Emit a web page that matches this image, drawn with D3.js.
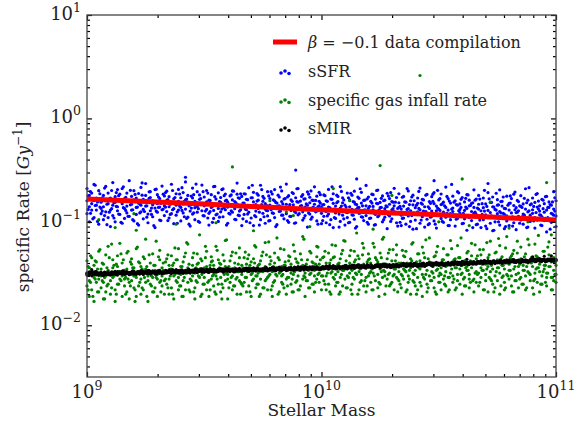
<!DOCTYPE html>
<html>
<head>
<meta charset="utf-8">
<script src="https://cdn.jsdelivr.net/npm/d3@7"></script>
<style>
  body { margin: 0; background: #fff; }
  svg { display: block; font-family: "DejaVu Serif", serif; }
</style>
</head>
<body>
<div id="chart"></div>
<script>
// beta = -0.1 data compilation (log10 stellar mass, rate)
const lineLogM = [9.0, 9.1, 9.2, 9.3, 9.4, 9.5, 9.6, 9.7, 9.8, 9.9, 10.0, 10.1, 10.2, 10.3, 10.4, 10.5, 10.6, 10.7, 10.8, 10.9, 11.0];
const lineRate = [0.166, 0.163, 0.159, 0.156, 0.152, 0.149, 0.145, 0.141, 0.138, 0.134, 0.131, 0.128, 0.125, 0.122, 0.12, 0.117, 0.114, 0.112, 0.109, 0.107, 0.104];

// scatter rows: [log10 stellar mass, rate, rate, ...]
const sSFR = [
[9.00,0.16,0.12,0.21],[9.01,0.14,0.18,0.10],[9.02,0.15,0.19,0.13],[9.03,0.23,0.11,0.16],[9.04,0.13,0.17,0.145],
[9.05,0.20,0.095,0.165],[9.06,0.135,0.155,0.12],[9.07,0.18,0.105,0.14],[9.08,0.22,0.125,0.16],[9.09,0.11,0.15,0.19],
[9.10,0.09,0.17,0.13],[9.11,0.145,0.24,0.115],[9.12,0.175,0.10,0.155],[9.13,0.128,0.205,0.14],[9.14,0.16,0.118,0.185],
[9.15,0.097,0.15,0.21],[9.16,0.135,0.168,0.108],[9.17,0.19,0.142,0.122],[9.18,0.158,0.25,0.113],[9.19,0.13,0.176,0.148],
[9.20,0.102,0.163,0.2],[9.21,0.138,0.118,0.17],[9.22,0.152,0.093,0.188],[9.23,0.125,0.215,0.145],[9.24,0.165,0.132,0.107],
[9.25,0.18,0.142,0.235],[9.26,0.119,0.155,0.098],[9.27,0.172,0.128,0.196],[9.28,0.146,0.112,0.16],[9.29,0.205,0.136,0.088],
[9.30,0.15,0.183,0.124],[9.31,0.139,0.168,0.104],[9.32,0.222,0.131,0.157],[9.33,0.115,0.178,0.143],
[9.34,0.161,0.126,0.198],[9.35,0.14,0.109,0.175],[9.36,0.152,0.231,0.12],[9.37,0.134,0.167,0.096],[9.38,0.187,0.145,0.116],
[9.39,0.158,0.206,0.13],[9.40,0.102,0.171,0.138],[9.41,0.149,0.122,0.192],[9.42,0.243,0.133,0.163],[9.43,0.111,0.155,0.18],
[9.44,0.127,0.091,0.146],[9.45,0.17,0.212,0.119],[9.46,0.137,0.158,0.105],[9.47,0.196,0.141,0.124],[9.48,0.165,0.099,0.182],
[9.49,0.128,0.151,0.227],[9.50,0.114,0.174,0.143],[9.51,0.156,0.132,0.201],[9.52,0.093,0.162,0.121],[9.53,0.183,0.138,0.15],
[9.54,0.108,0.219,0.129],[9.55,0.166,0.147,0.117],[9.56,0.135,0.191,0.101],[9.57,0.154,0.125,0.172],[9.58,0.208,0.143,0.112],
[9.59,0.131,0.16,0.186],[9.60,0.097,0.139,0.155],[9.61,0.178,0.119,0.146],[9.62,0.124,0.199,0.163],[9.63,0.157,0.106,0.134],
[9.64,0.185,0.148,0.237],[9.65,0.115,0.169,0.127],[9.66,0.14,0.092,0.176],
[9.67,0.152,0.118,0.187],[9.68,0.131,0.165,0.101],[9.69,0.144,0.214,0.124],[9.70,0.171,0.109,0.138],[9.71,0.092,0.156,0.193],
[9.72,0.127,0.147,0.112],[9.73,0.181,0.135,0.162],[9.74,0.105,0.226,0.141],[9.75,0.158,0.121,0.176],[9.76,0.133,0.097,0.15],
[9.77,0.196,0.128,0.114],[9.78,0.145,0.168,0.103],[9.79,0.122,0.186,0.137],[9.80,0.16,0.11,0.205],[9.81,0.138,0.152,0.094],
[9.82,0.174,0.126,0.143],[9.83,0.116,0.199,0.157],[9.84,0.134,0.107,0.166],[9.85,0.148,0.232,0.12],[9.86,0.099,0.14,0.179],
[9.87,0.163,0.129,0.113],[9.88,0.188,0.146,0.136],[9.89,0.123,0.171,0.098],[9.90,0.155,0.117,0.21],[9.91,0.132,0.159,0.142],
[9.92,0.104,0.183,0.125],[9.93,0.167,0.139,0.115],[9.94,0.145,0.195,0.089],[9.95,0.119,0.153,0.173],[9.96,0.136,0.111,0.162],
[9.97,0.218,0.131,0.148],[9.98,0.102,0.177,0.127],[9.99,0.158,0.143,0.193],[10.00,0.121,0.096,0.138],
[10.01,0.147,0.113,0.182],[10.02,0.126,0.16,0.098],[10.03,0.139,0.206,0.119],[10.04,0.166,0.105,0.133],[10.05,0.088,0.151,0.187],
[10.06,0.122,0.142,0.108],[10.07,0.176,0.13,0.157],[10.08,0.101,0.219,0.136],[10.09,0.153,0.116,0.171],[10.10,0.128,0.093,0.145],
[10.11,0.19,0.123,0.11],[10.12,0.14,0.163,0.099],[10.13,0.117,0.181,0.132],[10.14,0.155,0.106,0.198],[10.15,0.133,0.147,0.09],
[10.16,0.169,0.121,0.138],[10.17,0.112,0.193,0.152],[10.18,0.129,0.103,0.161],[10.19,0.143,0.225,0.115],[10.20,0.095,0.135,0.174],
[10.21,0.158,0.124,0.109],[10.22,0.183,0.141,0.131],[10.23,0.118,0.166,0.094],[10.24,0.15,0.112,0.203],[10.25,0.127,0.154,0.137],
[10.26,0.1,0.178,0.12],[10.27,0.162,0.134,0.111],[10.28,0.14,0.189,0.086],[10.29,0.114,0.148,0.168],[10.30,0.131,0.107,0.157],
[10.31,0.211,0.126,0.143],[10.32,0.098,0.172,0.122],[10.33,0.153,0.138,0.187],
[10.34,0.116,0.092,0.133],[10.35,0.142,0.109,0.176],[10.36,0.122,0.155,0.095],[10.37,0.134,0.199,0.114],[10.38,0.16,0.101,0.128],
[10.39,0.085,0.146,0.181],[10.40,0.118,0.137,0.104],[10.41,0.17,0.125,0.151],[10.42,0.097,0.212,0.131],[10.43,0.148,0.112,0.165],
[10.44,0.123,0.089,0.14],[10.45,0.184,0.119,0.106],[10.46,0.135,0.157,0.096],[10.47,0.113,0.175,0.127],[10.48,0.15,0.102,0.192],
[10.49,0.128,0.142,0.087],[10.50,0.163,0.117,0.133],[10.51,0.108,0.186,0.147],[10.52,0.124,0.099,0.155],[10.53,0.138,0.217,0.111],
[10.54,0.092,0.13,0.168],[10.55,0.152,0.12,0.105],[10.56,0.177,0.136,0.126],[10.57,0.114,0.16,0.091],[10.58,0.145,0.108,0.196],
[10.59,0.122,0.149,0.132],[10.60,0.096,0.172,0.116],[10.61,0.156,0.129,0.107],[10.62,0.135,0.183,0.083],[10.63,0.11,0.143,0.162],
[10.64,0.126,0.103,0.151],[10.65,0.204,0.121,0.138],[10.66,0.094,0.166,0.118],
[10.67,0.148,0.133,0.18],[10.68,0.112,0.088,0.128],[10.69,0.137,0.105,0.17],[10.70,0.117,0.149,0.091],[10.71,0.129,0.192,0.11],
[10.72,0.154,0.097,0.123],[10.73,0.082,0.14,0.174],[10.74,0.113,0.132,0.1],[10.75,0.164,0.12,0.145],[10.76,0.093,0.204,0.126],
[10.77,0.142,0.108,0.158],[10.78,0.118,0.086,0.135],[10.79,0.177,0.114,0.102],[10.80,0.13,0.151,0.092],[10.81,0.109,0.168,0.122],
[10.82,0.144,0.098,0.185],[10.83,0.123,0.137,0.084],[10.84,0.157,0.113,0.128],[10.85,0.104,0.179,0.141],[10.86,0.119,0.095,0.149],
[10.87,0.133,0.209,0.107],[10.88,0.089,0.125,0.162],[10.89,0.146,0.116,0.101],[10.90,0.17,0.131,0.121],[10.91,0.11,0.154,0.087],
[10.92,0.139,0.104,0.188],[10.93,0.117,0.143,0.127],[10.94,0.092,0.165,0.112],[10.95,0.15,0.124,0.103],[10.96,0.13,0.176,0.08],
[10.97,0.106,0.138,0.156],[10.98,0.121,0.099,0.145],[10.99,0.196,0.116,0.133],[11.00,0.09,0.16,0.114]
];
const sSFRHalf = [
[9.005,0.178,0.132],[9.015,0.121,0.196],[9.025,0.163,0.107],[9.035,0.144,0.226],[9.045,0.101,0.156],[9.055,0.187,0.139],
[9.065,0.127,0.171],[9.075,0.212,0.115],[9.085,0.148,0.094],[9.095,0.167,0.124],[9.105,0.134,0.201],[9.115,0.109,0.153],
[9.125,0.192,0.141],[9.135,0.119,0.179],[9.145,0.157,0.099],[9.155,0.137,0.218],[9.165,0.173,0.129],[9.175,0.113,0.162],
[9.185,0.202,0.146],[9.195,0.131,0.105],[9.205,0.161,0.184],[9.215,0.096,0.139],[9.225,0.149,0.122],[9.235,0.181,0.238],
[9.245,0.126,0.158],[9.255,0.143,0.111],[9.265,0.169,0.195],[9.275,0.118,0.136],[9.285,0.154,0.092],[9.295,0.207,0.127],
[9.305,0.138,0.174],[9.315,0.103,0.151],[9.325,0.185,0.133],
[9.335,0.139,0.192],[9.345,0.164,0.103],[9.355,0.118,0.148],[9.365,0.201,0.131],[9.375,0.151,0.172],[9.385,0.097,0.125],
[9.395,0.186,0.142],[9.405,0.129,0.214],[9.415,0.158,0.112],[9.425,0.108,0.166],[9.435,0.143,0.095],[9.445,0.177,0.136],
[9.455,0.122,0.183],[9.465,0.232,0.154],[9.475,0.134,0.101],[9.485,0.168,0.147],[9.495,0.115,0.196],[9.505,0.149,0.127],
[9.515,0.19,0.109],[9.525,0.126,0.161],[9.535,0.099,0.141],[9.545,0.175,0.22],[9.555,0.146,0.119],[9.565,0.111,0.157],
[9.575,0.205,0.133],[9.585,0.137,0.179],[9.595,0.162,0.093],[9.605,0.121,0.145],[9.615,0.182,0.128],[9.625,0.144,0.198],
[9.635,0.105,0.153],[9.645,0.171,0.116],[9.655,0.131,0.187],
[9.665,0.152,0.107],[9.675,0.186,0.133],[9.685,0.119,0.164],[9.695,0.098,0.142],[9.705,0.171,0.226],[9.715,0.138,0.115],
[9.725,0.159,0.188],[9.735,0.124,0.093],[9.745,0.205,0.147],[9.755,0.112,0.169],[9.765,0.145,0.129],[9.775,0.178,0.102],
[9.785,0.131,0.196],[9.795,0.163,0.121],[9.805,0.09,0.154],[9.815,0.142,0.181],[9.825,0.217,0.127],[9.835,0.116,0.149],
[9.845,0.168,0.136],[9.855,0.103,0.174],[9.865,0.147,0.113],[9.875,0.192,0.158],[9.885,0.126,0.097],[9.895,0.157,0.209],
[9.905,0.135,0.12],[9.915,0.176,0.144],[9.925,0.109,0.166],[9.935,0.149,0.131],[9.945,0.122,0.185],[9.955,0.199,0.106],
[9.965,0.139,0.161],[9.975,0.161,0.125],[9.985,0.095,0.14],[9.995,0.183,0.152],
[10.005,0.146,0.103],[10.015,0.179,0.128],[10.025,0.114,0.158],[10.035,0.094,0.137],[10.045,0.165,0.218],[10.055,0.133,0.11],
[10.065,0.153,0.181],[10.075,0.119,0.089],[10.085,0.197,0.142],[10.095,0.107,0.163],[10.105,0.139,0.124],[10.115,0.171,0.098],
[10.125,0.126,0.189],[10.135,0.157,0.116],[10.145,0.087,0.148],[10.155,0.137,0.174],[10.165,0.209,0.122],[10.175,0.111,0.143],
[10.185,0.162,0.131],[10.195,0.099,0.167],[10.205,0.141,0.108],[10.215,0.185,0.152],[10.225,0.121,0.093],[10.235,0.151,0.201],
[10.245,0.13,0.115],[10.255,0.169,0.138],[10.265,0.105,0.16],[10.275,0.143,0.126],[10.285,0.117,0.178],[10.295,0.192,0.101],
[10.305,0.134,0.155],[10.315,0.155,0.12],[10.325,0.091,0.135],
[10.335,0.141,0.099],[10.345,0.108,0.173],[10.355,0.156,0.123],[10.365,0.132,0.21],[10.375,0.09,0.147],[10.385,0.174,0.115],
[10.395,0.119,0.16],[10.405,0.145,0.086],[10.415,0.197,0.135],[10.425,0.104,0.152],[10.435,0.163,0.127],[10.445,0.126,0.181],
[10.455,0.094,0.14],[10.465,0.151,0.111],[10.475,0.185,0.158],[10.485,0.117,0.095],[10.495,0.136,0.202],[10.505,0.168,0.129],
[10.515,0.101,0.149],[10.525,0.143,0.117],[10.535,0.121,0.176],[10.545,0.159,0.092],[10.555,0.23,0.133],[10.565,0.112,0.155],
[10.575,0.147,0.106],[10.585,0.128,0.191],[10.595,0.165,0.138],[10.605,0.097,0.121],[10.615,0.139,0.169],[10.625,0.182,0.113],
[10.635,0.115,0.144],[10.645,0.153,0.088],[10.655,0.124,0.162],
[10.665,0.136,0.095],[10.675,0.104,0.166],[10.685,0.15,0.118],[10.695,0.127,0.202],[10.705,0.086,0.141],[10.715,0.167,0.11],
[10.725,0.114,0.154],[10.735,0.139,0.083],[10.745,0.189,0.13],[10.755,0.1,0.146],[10.765,0.157,0.122],[10.775,0.121,0.174],
[10.785,0.09,0.134],[10.795,0.145,0.107],[10.805,0.178,0.152],[10.815,0.112,0.091],[10.825,0.131,0.194],[10.835,0.161,0.124],
[10.845,0.097,0.143],[10.855,0.138,0.112],[10.865,0.116,0.169],[10.875,0.153,0.088],[10.885,0.214,0.128],[10.895,0.108,0.149],
[10.905,0.141,0.102],[10.915,0.123,0.184],[10.925,0.159,0.133],[10.935,0.093,0.116],[10.945,0.134,0.162],[10.955,0.175,0.108],
[10.965,0.11,0.138],[10.975,0.147,0.085],[10.985,0.119,0.156],[10.995,0.171,0.127]
];
const sSFROutliers = [[9.89, 0.317], [10.48, 0.25], [9.42, 0.27], [10.15, 0.26], [10.71, 0.235]];

const gasInfall = [
[9.00,0.031,0.024,0.042],[9.01,0.027,0.036,0.019],[9.02,0.033,0.045,0.022],[9.03,0.029,0.038,0.017],[9.04,0.041,0.026,0.032],
[9.05,0.021,0.052,0.028],[9.06,0.035,0.023,0.03],[9.07,0.018,0.039,0.026],[9.08,0.048,0.03,0.021],[9.09,0.025,0.034,0.058],
[9.10,0.032,0.02,0.027],[9.11,0.043,0.029,0.036],[9.12,0.022,0.031,0.017],[9.13,0.037,0.025,0.047],[9.14,0.028,0.062,0.033],
[9.15,0.019,0.03,0.04],[9.16,0.034,0.024,0.028],[9.17,0.05,0.021,0.035],[9.18,0.026,0.032,0.018],[9.19,0.039,0.027,0.044],
[9.20,0.023,0.036,0.03],[9.21,0.029,0.019,0.055],[9.22,0.033,0.041,0.024],[9.23,0.02,0.028,0.037],[9.24,0.046,0.031,0.022],
[9.25,0.026,0.035,0.068],[9.26,0.03,0.017,0.027],[9.27,0.04,0.025,0.033],[9.28,0.021,0.049,0.029],[9.29,0.034,0.023,0.038],
[9.30,0.028,0.031,0.019],[9.31,0.043,0.026,0.053],[9.32,0.024,0.036,0.03],[9.33,0.032,0.02,0.027],
[9.34,0.033,0.025,0.044],[9.35,0.028,0.038,0.02],[9.36,0.035,0.047,0.023],[9.37,0.03,0.04,0.018],[9.38,0.043,0.027,0.034],
[9.39,0.022,0.055,0.029],[9.40,0.037,0.024,0.031],[9.41,0.019,0.041,0.027],[9.42,0.05,0.032,0.022],[9.43,0.026,0.036,0.061],
[9.44,0.033,0.021,0.028],[9.45,0.045,0.03,0.038],[9.46,0.023,0.032,0.018],[9.47,0.039,0.026,0.049],[9.48,0.029,0.075,0.035],
[9.49,0.02,0.031,0.042],[9.50,0.036,0.025,0.029],[9.51,0.052,0.022,0.037],[9.52,0.027,0.034,0.019],[9.53,0.041,0.028,0.046],
[9.54,0.024,0.038,0.031],[9.55,0.03,0.02,0.058],[9.56,0.035,0.043,0.025],[9.57,0.021,0.029,0.039],[9.58,0.048,0.033,0.023],
[9.59,0.027,0.037,0.066],[9.60,0.031,0.018,0.028],[9.61,0.042,0.026,0.035],[9.62,0.022,0.051,0.03],[9.63,0.036,0.024,0.04],
[9.64,0.029,0.033,0.02],[9.65,0.045,0.027,0.056],[9.66,0.025,0.038,0.031],
[9.67,0.034,0.026,0.045],[9.68,0.029,0.039,0.021],[9.69,0.036,0.048,0.024],[9.70,0.031,0.041,0.019],[9.71,0.044,0.028,0.035],
[9.72,0.023,0.057,0.03],[9.73,0.038,0.025,0.032],[9.74,0.02,0.042,0.028],[9.75,0.051,0.033,0.023],[9.76,0.027,0.037,0.063],
[9.77,0.034,0.022,0.029],[9.78,0.046,0.031,0.039],[9.79,0.024,0.033,0.019],[9.80,0.04,0.027,0.05],[9.81,0.03,0.07,0.036],
[9.82,0.021,0.032,0.043],[9.83,0.037,0.026,0.03],[9.84,0.054,0.023,0.038],[9.85,0.028,0.035,0.02],[9.86,0.042,0.029,0.047],
[9.87,0.025,0.039,0.032],[9.88,0.031,0.021,0.06],[9.89,0.036,0.044,0.026],[9.90,0.022,0.03,0.04],[9.91,0.049,0.034,0.024],
[9.92,0.028,0.038,0.072],[9.93,0.032,0.019,0.029],[9.94,0.043,0.027,0.036],[9.95,0.023,0.052,0.031],[9.96,0.037,0.025,0.041],
[9.97,0.03,0.034,0.021],[9.98,0.046,0.028,0.058],[9.99,0.026,0.039,0.032],[10.00,0.035,0.022,0.03],
[10.01,0.035,0.027,0.046],[10.02,0.03,0.04,0.022],[10.03,0.037,0.05,0.025],[10.04,0.032,0.043,0.02],[10.05,0.045,0.029,0.036],
[10.06,0.024,0.059,0.031],[10.07,0.039,0.026,0.033],[10.08,0.021,0.044,0.029],[10.09,0.053,0.034,0.024],[10.10,0.028,0.038,0.065],
[10.11,0.035,0.023,0.03],[10.12,0.047,0.032,0.04],[10.13,0.025,0.034,0.02],[10.14,0.041,0.028,0.052],[10.15,0.031,0.078,0.037],
[10.16,0.022,0.033,0.044],[10.17,0.038,0.027,0.031],[10.18,0.056,0.024,0.039],[10.19,0.029,0.036,0.021],[10.20,0.043,0.03,0.049],
[10.21,0.026,0.04,0.033],[10.22,0.032,0.022,0.062],[10.23,0.037,0.045,0.027],[10.24,0.023,0.031,0.041],[10.25,0.05,0.035,0.025],
[10.26,0.029,0.039,0.068],[10.27,0.033,0.02,0.03],[10.28,0.044,0.028,0.037],[10.29,0.024,0.054,0.032],[10.30,0.038,0.026,0.042],
[10.31,0.031,0.035,0.022],[10.32,0.048,0.029,0.06],[10.33,0.027,0.04,0.033],
[10.34,0.04,0.031,0.023],[10.35,0.028,0.047,0.035],[10.36,0.021,0.033,0.052],[10.37,0.038,0.026,0.03],[10.38,0.044,0.02,0.036],
[10.39,0.032,0.063,0.027],[10.40,0.024,0.039,0.034],[10.41,0.049,0.029,0.022],[10.42,0.035,0.042,0.026],[10.43,0.019,0.031,0.057],
[10.44,0.037,0.028,0.045],[10.45,0.025,0.034,0.021],[10.46,0.041,0.03,0.07],[10.47,0.027,0.038,0.033],[10.48,0.046,0.023,0.029],
[10.49,0.034,0.051,0.02],[10.50,0.03,0.026,0.04],[10.51,0.022,0.036,0.031],[10.52,0.055,0.028,0.043],[10.53,0.033,0.024,0.037],
[10.54,0.029,0.048,0.021],[10.55,0.039,0.032,0.066],[10.56,0.026,0.041,0.03],[10.57,0.036,0.022,0.044],[10.58,0.031,0.059,0.027],
[10.59,0.045,0.025,0.035],[10.60,0.02,0.038,0.032],[10.61,0.042,0.029,0.024],[10.62,0.034,0.05,0.037],[10.63,0.023,0.031,0.028],
[10.64,0.047,0.036,0.062],[10.65,0.028,0.021,0.04],[10.66,0.033,0.044,0.026],
[10.67,0.041,0.032,0.024],[10.68,0.029,0.048,0.036],[10.69,0.022,0.034,0.054],[10.70,0.039,0.027,0.031],[10.71,0.045,0.021,0.037],
[10.72,0.033,0.065,0.028],[10.73,0.025,0.04,0.035],[10.74,0.05,0.03,0.023],[10.75,0.036,0.043,0.027],[10.76,0.02,0.032,0.059],
[10.77,0.038,0.029,0.046],[10.78,0.026,0.035,0.022],[10.79,0.042,0.031,0.072],[10.80,0.028,0.039,0.034],[10.81,0.047,0.024,0.03],
[10.82,0.035,0.053,0.021],[10.83,0.031,0.027,0.041],[10.84,0.023,0.037,0.032],[10.85,0.057,0.029,0.044],[10.86,0.034,0.025,0.038],
[10.87,0.03,0.049,0.022],[10.88,0.04,0.033,0.068],[10.89,0.027,0.042,0.031],[10.90,0.037,0.023,0.045],[10.91,0.032,0.061,0.028],
[10.92,0.046,0.026,0.036],[10.93,0.021,0.039,0.033],[10.94,0.043,0.03,0.025],[10.95,0.035,0.052,0.038],[10.96,0.024,0.032,0.029],
[10.97,0.048,0.037,0.064],[10.98,0.029,0.022,0.041],[10.99,0.034,0.045,0.027],[11.00,0.038,0.026,0.031]
];
const gasInfallHalf = [
[9.005,0.037,0.022],[9.015,0.026,0.047],[9.025,0.033,0.019],[9.035,0.042,0.028],[9.045,0.021,0.035],[9.055,0.054,0.031],
[9.065,0.027,0.04],[9.075,0.018,0.029],[9.085,0.036,0.024],[9.095,0.045,0.032],[9.105,0.023,0.061],[9.115,0.03,0.038],
[9.125,0.039,0.02],[9.135,0.025,0.033],[9.145,0.049,0.027],[9.155,0.034,0.043],[9.165,0.02,0.029],[9.175,0.028,0.052],
[9.185,0.041,0.024],[9.195,0.031,0.036],[9.205,0.022,0.017],[9.215,0.057,0.033],[9.225,0.026,0.04],[9.235,0.035,0.023],
[9.245,0.044,0.029],[9.255,0.019,0.037],[9.265,0.032,0.048],[9.275,0.024,0.03],[9.285,0.038,0.021],[9.295,0.029,0.065],
[9.305,0.046,0.034],[9.315,0.021,0.027],[9.325,0.034,0.04],
[9.335,0.028,0.041],[9.345,0.048,0.023],[9.355,0.035,0.03],[9.365,0.02,0.038],[9.375,0.031,0.056],[9.385,0.043,0.026],
[9.395,0.024,0.034],[9.405,0.037,0.019],[9.415,0.029,0.046],[9.425,0.063,0.032],[9.435,0.022,0.039],[9.445,0.034,0.027],
[9.455,0.05,0.021],[9.465,0.027,0.036],[9.475,0.04,0.03],[9.485,0.019,0.044],[9.495,0.033,0.025],[9.505,0.045,0.058],
[9.515,0.026,0.035],[9.525,0.038,0.022],[9.535,0.03,0.042],[9.545,0.021,0.033],[9.555,0.053,0.028],[9.565,0.036,0.04],
[9.575,0.025,0.018],[9.585,0.042,0.031],[9.595,0.032,0.067],[9.605,0.023,0.037],[9.615,0.047,0.029],[9.625,0.034,0.024],
[9.635,0.028,0.05],[9.645,0.039,0.033],[9.655,0.02,0.026],
[9.665,0.036,0.024],[9.675,0.029,0.051],[9.685,0.044,0.033],[9.695,0.021,0.038],[9.705,0.032,0.027],[9.715,0.059,0.04],
[9.725,0.025,0.03],[9.735,0.039,0.019],[9.745,0.034,0.047],[9.755,0.023,0.035],[9.765,0.048,0.028],[9.775,0.03,0.064],
[9.785,0.042,0.022],[9.795,0.026,0.037],[9.805,0.035,0.031],[9.815,0.02,0.045],[9.825,0.055,0.033],[9.835,0.031,0.025],
[9.845,0.038,0.041],[9.855,0.024,0.029],[9.865,0.046,0.036],[9.875,0.028,0.021],[9.885,0.033,0.052],[9.895,0.041,0.027],
[9.905,0.022,0.034],[9.915,0.037,0.043],[9.925,0.068,0.03],[9.935,0.027,0.039],[9.945,0.034,0.023],[9.955,0.05,0.032],
[9.965,0.025,0.04],[9.975,0.039,0.026],[9.985,0.031,0.057],[9.995,0.043,0.035],
[10.005,0.03,0.045],[10.015,0.052,0.025],[10.025,0.037,0.032],[10.035,0.021,0.04],[10.045,0.033,0.06],[10.055,0.046,0.028],
[10.065,0.026,0.036],[10.075,0.04,0.02],[10.085,0.031,0.049],[10.095,0.066,0.034],[10.105,0.023,0.042],[10.115,0.036,0.029],
[10.125,0.053,0.022],[10.135,0.029,0.038],[10.145,0.043,0.032],[10.155,0.02,0.047],[10.165,0.035,0.026],[10.175,0.048,0.062],
[10.185,0.027,0.037],[10.195,0.041,0.024],[10.205,0.032,0.044],[10.215,0.022,0.035],[10.225,0.057,0.03],[10.235,0.038,0.043],
[10.245,0.026,0.019],[10.255,0.045,0.033],[10.265,0.034,0.071],[10.275,0.024,0.039],[10.285,0.05,0.031],[10.295,0.036,0.025],
[10.305,0.03,0.054],[10.315,0.042,0.035],[10.325,0.021,0.028],
[10.335,0.038,0.025],[10.345,0.03,0.053],[10.355,0.046,0.034],[10.365,0.022,0.04],[10.375,0.034,0.028],[10.385,0.061,0.042],
[10.395,0.026,0.031],[10.405,0.041,0.02],[10.415,0.036,0.049],[10.425,0.024,0.037],[10.435,0.05,0.029],[10.445,0.031,0.067],
[10.455,0.044,0.023],[10.465,0.027,0.039],[10.475,0.037,0.032],[10.485,0.021,0.047],[10.495,0.058,0.035],[10.505,0.032,0.026],
[10.515,0.04,0.043],[10.525,0.025,0.03],[10.535,0.048,0.038],[10.545,0.029,0.022],[10.555,0.035,0.055],[10.565,0.043,0.028],
[10.575,0.023,0.036],[10.585,0.039,0.045],[10.595,0.07,0.031],[10.605,0.028,0.041],[10.615,0.036,0.024],[10.625,0.052,0.034],
[10.635,0.026,0.042],[10.645,0.041,0.027],[10.655,0.032,0.06],
[10.665,0.031,0.047],[10.675,0.054,0.026],[10.685,0.039,0.034],[10.695,0.022,0.042],[10.705,0.035,0.063],[10.715,0.048,0.029],
[10.725,0.027,0.038],[10.735,0.042,0.021],[10.745,0.033,0.051],[10.755,0.069,0.036],[10.765,0.024,0.044],[10.775,0.038,0.03],
[10.785,0.056,0.023],[10.795,0.03,0.04],[10.805,0.045,0.034],[10.815,0.021,0.049],[10.825,0.037,0.027],[10.835,0.05,0.065],
[10.845,0.028,0.039],[10.855,0.043,0.025],[10.865,0.034,0.046],[10.875,0.023,0.037],[10.885,0.06,0.032],[10.895,0.04,0.045],
[10.905,0.027,0.02],[10.915,0.047,0.035],[10.925,0.036,0.074],[10.935,0.025,0.041],[10.945,0.052,0.033],[10.955,0.038,0.026],
[10.965,0.032,0.057],[10.975,0.044,0.037],[10.985,0.022,0.029],[10.995,0.041,0.031]
];
const gasOutliers = [
[9.05,0.105],[9.12,0.088],[9.2,0.12],[9.21,0.083],[9.38,0.095],[9.55,0.098],[9.62,0.34],[9.71,0.082],[9.78,0.16],
[9.85,0.125],[9.88,0.115],[9.95,0.09],[10.05,0.21],[10.12,0.16],[10.22,0.085],[10.25,0.35],[10.3,0.18],[10.42,2.6],
[10.5,0.1],[10.6,0.26],[10.63,0.092],[10.72,0.155],[10.8,0.087],[10.88,0.1],[10.96,0.24],[10.98,0.075]
];

const sMIR = [
[9.00,0.0321,0.0306,0.0317],[9.01,0.0312,0.0328,0.0309],[9.02,0.0319,0.0301,0.0325],[9.03,0.0314,0.0323,0.031],[9.04,0.0307,0.0318,0.033],
[9.05,0.0316,0.0304,0.0322],[9.06,0.0311,0.0326,0.0313],[9.07,0.0319,0.0303,0.0317],[9.08,0.0324,0.031,0.0315],[9.09,0.0308,0.032,0.0329],
[9.10,0.0313,0.0318,0.0305],[9.11,0.0326,0.0311,0.0322],[9.12,0.0317,0.0333,0.0314],[9.13,0.0324,0.0306,0.033],[9.14,0.0319,0.0328,0.0315],
[9.15,0.0312,0.0323,0.0335],[9.16,0.0321,0.0309,0.0327],[9.17,0.0316,0.0331,0.0318],[9.18,0.0324,0.0308,0.0322],[9.19,0.0329,0.0315,0.032],
[9.20,0.0313,0.0325,0.0334],[9.21,0.0318,0.0323,0.031],[9.22,0.0331,0.0316,0.0327],[9.23,0.0322,0.0338,0.0319],[9.24,0.0329,0.0311,0.0335],
[9.25,0.0324,0.0333,0.032],[9.26,0.0317,0.0328,0.034],[9.27,0.0326,0.0314,0.0332],[9.28,0.0321,0.0336,0.0323],[9.29,0.0329,0.0313,0.0327],
[9.30,0.0334,0.032,0.0325],[9.31,0.0318,0.033,0.0339],[9.32,0.0323,0.0328,0.0315],[9.33,0.0331,0.0319,0.0326],
[9.34,0.0336,0.0321,0.0332],[9.35,0.0327,0.0343,0.0324],[9.36,0.0334,0.0316,0.034],[9.37,0.0329,0.0338,0.0325],[9.38,0.0322,0.0333,0.0345],
[9.39,0.0331,0.0319,0.0337],[9.40,0.0326,0.0341,0.0328],[9.41,0.0334,0.0318,0.0332],[9.42,0.0339,0.0325,0.033],[9.43,0.0323,0.0335,0.0344],
[9.44,0.0328,0.0333,0.032],[9.45,0.0342,0.0327,0.0338],[9.46,0.0333,0.0349,0.033],[9.47,0.034,0.0322,0.0346],[9.48,0.0335,0.0344,0.0331],
[9.49,0.0328,0.0339,0.0351],[9.50,0.0337,0.0325,0.0343],[9.51,0.0332,0.0347,0.0334],[9.52,0.034,0.0324,0.0338],[9.53,0.0345,0.0331,0.0336],
[9.54,0.0329,0.0341,0.035],[9.55,0.0334,0.0339,0.0326],[9.56,0.0347,0.0332,0.0343],[9.57,0.0338,0.0354,0.0335],[9.58,0.0345,0.0327,0.0351],
[9.59,0.034,0.0349,0.0336],[9.60,0.0333,0.0344,0.0356],[9.61,0.0342,0.033,0.0348],[9.62,0.0337,0.0352,0.0339],[9.63,0.0345,0.0329,0.0343],
[9.64,0.035,0.0336,0.0341],[9.65,0.0334,0.0346,0.0355],[9.66,0.0339,0.0344,0.0331],
[9.67,0.0351,0.0336,0.0347],[9.68,0.0342,0.0358,0.0339],[9.69,0.0349,0.0331,0.0355],[9.70,0.0344,0.0353,0.034],[9.71,0.0337,0.0348,0.036],
[9.72,0.0346,0.0334,0.0352],[9.73,0.0341,0.0356,0.0343],[9.74,0.0349,0.0333,0.0347],[9.75,0.0354,0.034,0.0345],[9.76,0.0338,0.035,0.0359],
[9.77,0.0343,0.0348,0.0335],[9.78,0.0356,0.0341,0.0352],[9.79,0.0347,0.0363,0.0344],[9.80,0.0354,0.0336,0.036],[9.81,0.0349,0.0358,0.0345],
[9.82,0.0342,0.0353,0.0365],[9.83,0.0351,0.0339,0.0357],[9.84,0.0346,0.0361,0.0348],[9.85,0.0354,0.0338,0.0352],[9.86,0.0359,0.0345,0.035],
[9.87,0.0343,0.0355,0.0364],[9.88,0.0348,0.0353,0.034],[9.89,0.0362,0.0347,0.0358],[9.90,0.0353,0.0369,0.035],[9.91,0.036,0.0342,0.0366],
[9.92,0.0355,0.0364,0.0351],[9.93,0.0348,0.0359,0.0371],[9.94,0.0357,0.0345,0.0363],[9.95,0.0352,0.0367,0.0354],[9.96,0.036,0.0344,0.0358],
[9.97,0.0365,0.0351,0.0356],[9.98,0.0349,0.0361,0.037],[9.99,0.0354,0.0359,0.0346],[10.00,0.0363,0.035,0.0357],
[10.01,0.0368,0.0353,0.0364],[10.02,0.0359,0.0375,0.0356],[10.03,0.0366,0.0348,0.0372],[10.04,0.0361,0.037,0.0357],[10.05,0.0354,0.0365,0.0377],
[10.06,0.0363,0.0351,0.0369],[10.07,0.0358,0.0373,0.036],[10.08,0.0366,0.035,0.0364],[10.09,0.0371,0.0357,0.0362],[10.10,0.0355,0.0367,0.0376],
[10.11,0.036,0.0365,0.0352],[10.12,0.0375,0.036,0.0371],[10.13,0.0366,0.0382,0.0363],[10.14,0.0373,0.0355,0.0379],[10.15,0.0368,0.0377,0.0364],
[10.16,0.0361,0.0372,0.0384],[10.17,0.037,0.0358,0.0376],[10.18,0.0365,0.038,0.0367],[10.19,0.0373,0.0357,0.0371],[10.20,0.0378,0.0364,0.0369],
[10.21,0.0362,0.0374,0.0383],[10.22,0.0367,0.0372,0.0359],[10.23,0.0382,0.0367,0.0378],[10.24,0.0373,0.0389,0.037],[10.25,0.038,0.0362,0.0386],
[10.26,0.0375,0.0384,0.0371],[10.27,0.0368,0.0379,0.0391],[10.28,0.0377,0.0365,0.0383],[10.29,0.0372,0.0387,0.0374],[10.30,0.038,0.0364,0.0378],
[10.31,0.0385,0.0371,0.0376],[10.32,0.0369,0.0381,0.039],[10.33,0.0374,0.0379,0.0366],
[10.34,0.0389,0.0374,0.0385],[10.35,0.038,0.0396,0.0377],[10.36,0.0387,0.0369,0.0393],[10.37,0.0382,0.0391,0.0378],[10.38,0.0375,0.0386,0.0398],
[10.39,0.0384,0.0372,0.039],[10.40,0.0379,0.0394,0.0381],[10.41,0.0387,0.0371,0.0385],[10.42,0.0392,0.0378,0.0383],[10.43,0.0376,0.0388,0.0397],
[10.44,0.0381,0.0386,0.0373],[10.45,0.0397,0.0382,0.0393],[10.46,0.0388,0.0404,0.0385],[10.47,0.0395,0.0377,0.0401],[10.48,0.039,0.0399,0.0386],
[10.49,0.0383,0.0394,0.0406],[10.50,0.0392,0.038,0.0398],[10.51,0.0387,0.0402,0.0389],[10.52,0.0395,0.0379,0.0393],[10.53,0.04,0.0386,0.0391],
[10.54,0.0384,0.0396,0.0405],[10.55,0.0389,0.0394,0.0381],[10.56,0.0405,0.039,0.0401],[10.57,0.0396,0.0412,0.0393],[10.58,0.0403,0.0385,0.0409],
[10.59,0.0398,0.0407,0.0394],[10.60,0.0391,0.0402,0.0414],[10.61,0.04,0.0388,0.0406],[10.62,0.0395,0.041,0.0397],[10.63,0.0403,0.0387,0.0401],
[10.64,0.0408,0.0394,0.0399],[10.65,0.0392,0.0404,0.0413],[10.66,0.0397,0.0402,0.0389],
[10.67,0.0413,0.0398,0.0409],[10.68,0.0404,0.042,0.0401],[10.69,0.0411,0.0393,0.0417],[10.70,0.0406,0.0415,0.0402],[10.71,0.0399,0.041,0.0422],
[10.72,0.0408,0.0396,0.0414],[10.73,0.0403,0.0418,0.0405],[10.74,0.0411,0.0395,0.0409],[10.75,0.0416,0.0402,0.0407],[10.76,0.04,0.0412,0.0421],
[10.77,0.0405,0.041,0.0397],[10.78,0.0422,0.0407,0.0418],[10.79,0.0413,0.0429,0.041],[10.80,0.042,0.0402,0.0426],[10.81,0.0415,0.0424,0.0411],
[10.82,0.0408,0.0419,0.0431],[10.83,0.0417,0.0405,0.0423],[10.84,0.0412,0.0427,0.0414],[10.85,0.042,0.0404,0.0418],[10.86,0.0425,0.0411,0.0416],
[10.87,0.0409,0.0421,0.043],[10.88,0.0414,0.0419,0.0406],[10.89,0.0432,0.0417,0.0428],[10.90,0.0423,0.0439,0.042],[10.91,0.043,0.0412,0.0436],
[10.92,0.0425,0.0434,0.0421],[10.93,0.0418,0.0429,0.0441],[10.94,0.0427,0.0415,0.0433],[10.95,0.0422,0.0437,0.0424],[10.96,0.043,0.0414,0.0428],
[10.97,0.0435,0.0421,0.0426],[10.98,0.0419,0.0431,0.044],[10.99,0.0424,0.0429,0.0416],[11.00,0.0433,0.042,0.0427]
];
const sMIRHalf = [
[9.005,0.0309],[9.015,0.0324],[9.025,0.0315],[9.035,0.0331],[9.045,0.0312],[9.055,0.032],[9.065,0.0305],[9.075,0.0327],
[9.085,0.0318],[9.095,0.0313],[9.105,0.0329],[9.115,0.0321],[9.125,0.0308],[9.135,0.0325],[9.145,0.0317],[9.155,0.0333],
[9.165,0.0314],[9.175,0.0322],[9.185,0.0311],[9.195,0.0336],[9.205,0.0319],[9.215,0.0326],[9.225,0.0313],[9.235,0.0331],
[9.245,0.0323],[9.255,0.0316],[9.265,0.0338],[9.275,0.0321],[9.285,0.0329],[9.295,0.0312],[9.305,0.0334],[9.315,0.0325],
[9.325,0.0319],
[9.335,0.0339],[9.345,0.0325],[9.355,0.0333],[9.365,0.0346],[9.375,0.0328],[9.385,0.0336],[9.395,0.0321],[9.405,0.0343],
[9.415,0.0334],[9.425,0.0329],[9.435,0.0347],[9.445,0.0338],[9.455,0.0324],[9.465,0.0341],[9.475,0.0333],[9.485,0.0351],
[9.495,0.0331],[9.505,0.0339],[9.515,0.0327],[9.525,0.0353],[9.535,0.0336],[9.545,0.0344],[9.555,0.033],[9.565,0.0349],
[9.575,0.034],[9.585,0.0333],[9.595,0.0356],[9.605,0.0338],[9.615,0.0347],[9.625,0.0329],[9.635,0.0352],[9.645,0.0343],
[9.655,0.0336],
[9.665,0.0341],[9.675,0.0355],[9.685,0.0347],[9.695,0.0336],[9.705,0.0352],[9.715,0.0344],[9.725,0.0359],[9.735,0.0339],
[9.745,0.035],[9.755,0.0346],[9.765,0.0361],[9.775,0.0342],[9.785,0.0354],[9.795,0.0348],[9.805,0.0337],[9.815,0.0357],
[9.825,0.0351],[9.835,0.0345],[9.845,0.0363],[9.855,0.0341],[9.865,0.0356],[9.875,0.0349],[9.885,0.0366],[9.895,0.0344],
[9.905,0.0359],[9.915,0.0353],[9.925,0.0342],[9.935,0.0362],[9.945,0.0355],[9.955,0.0348],[9.965,0.0368],[9.975,0.0351],
[9.985,0.0359],[9.995,0.0345],
[10.005,0.0369],[10.015,0.0355],[10.025,0.0364],[10.035,0.0377],[10.045,0.0359],[10.055,0.0367],[10.065,0.0352],[10.075,0.0374],
[10.085,0.0365],[10.095,0.036],[10.105,0.0379],[10.115,0.037],[10.125,0.0356],[10.135,0.0373],[10.145,0.0365],[10.155,0.0384],
[10.165,0.0362],[10.175,0.0371],[10.185,0.0359],[10.195,0.0386],[10.205,0.0368],[10.215,0.0377],[10.225,0.0362],[10.235,0.0382],
[10.245,0.0373],[10.255,0.0366],[10.265,0.039],[10.275,0.0371],[10.285,0.038],[10.295,0.0363],[10.305,0.0387],[10.315,0.0378],
[10.325,0.037],
[10.335,0.0378],[10.345,0.0392],[10.355,0.0384],[10.365,0.0373],[10.375,0.039],[10.385,0.0381],[10.395,0.0397],[10.405,0.0376],
[10.415,0.0388],[10.425,0.0383],[10.435,0.04],[10.445,0.0379],[10.455,0.0393],[10.465,0.0386],[10.475,0.0374],[10.485,0.0396],
[10.495,0.0389],[10.505,0.0383],[10.515,0.0403],[10.525,0.0379],[10.535,0.0395],[10.545,0.0388],[10.555,0.0406],[10.565,0.0383],
[10.575,0.0399],[10.585,0.0392],[10.595,0.038],[10.605,0.0403],[10.615,0.0395],[10.625,0.0388],[10.635,0.0409],[10.645,0.0391],
[10.655,0.04],
[10.665,0.0414],[10.675,0.0399],[10.685,0.0409],[10.695,0.0423],[10.705,0.0404],[10.715,0.0413],[10.725,0.0396],[10.735,0.042],
[10.745,0.041],[10.755,0.0405],[10.765,0.0426],[10.775,0.0416],[10.785,0.0401],[10.795,0.042],[10.805,0.0411],[10.815,0.0431],
[10.825,0.0408],[10.835,0.0418],[10.845,0.0405],[10.855,0.0434],[10.865,0.0415],[10.875,0.0425],[10.885,0.0409],[10.895,0.0431],
[10.905,0.0421],[10.915,0.0413],[10.925,0.044],[10.935,0.0419],[10.945,0.0429],[10.955,0.0411],[10.965,0.0437],[10.975,0.0427],
[10.985,0.0419],[10.995,0.0433]
];
const sMIROutliers = [[10.9, 0.046], [10.98, 0.047], [10.95, 0.0465], [10.62, 0.0435], [9.02, 0.0345]];

const xMajor = [1e9, 1e10, 1e11];
const xMinor = [2e9, 3e9, 4e9, 5e9, 6e9, 7e9, 8e9, 9e9, 2e10, 3e10, 4e10, 5e10, 6e10, 7e10, 8e10, 9e10];
const yMajor = [1e-2, 1e-1, 1, 10];
const yMinor = [4e-3, 5e-3, 6e-3, 7e-3, 8e-3, 9e-3,
  2e-2, 3e-2, 4e-2, 5e-2, 6e-2, 7e-2, 8e-2, 9e-2,
  0.2, 0.3, 0.4, 0.5, 0.6, 0.7, 0.8, 0.9, 2, 3, 4, 5, 6, 7, 8, 9];
const legendLabels = ["data compilation", "sSFR", "specific gas infall rate", "sMIR"];
const colors = ["#ff0000", "#0000ff", "#008000", "#000000"];

const width = 578, height = 423;
const margin = {top: 15, right: 22, bottom: 46, left: 87};

const svg = d3.select("#chart").append("svg")
    .attr("width", width)
    .attr("height", height);

const x = d3.scaleLog().domain([1e9, 1e11]).range([margin.left, width - margin.right]);
const y = d3.scaleLog().domain([Math.pow(10, -2.5), 10]).range([height - margin.bottom, margin.top]);

// rows -> [mass, rate] points
function toPoints(rows) {
    const pts = [];
    rows.forEach(r => {
        for (let i = 1; i < r.length; i++) pts.push([Math.pow(10, r[0]), r[i]]);
    });
    return pts;
}

const plot = svg.append("g");

// scatter sets, in plotting order
const sets = [
    {pts: toPoints(sSFR).concat(toPoints(sSFRHalf), toPoints(sSFROutliers)), color: colors[1]},
    {pts: toPoints(gasInfall).concat(toPoints(gasInfallHalf), toPoints(gasOutliers)), color: colors[2]},
    {pts: toPoints(sMIR).concat(toPoints(sMIRHalf), toPoints(sMIROutliers)), color: colors[3]}
];
sets.forEach(s => {
    plot.append("g").selectAll("circle")
        .data(s.pts)
        .enter()
        .append("circle")
        .attr("cx", d => x(d[0]))
        .attr("cy", d => y(d[1]))
        .attr("r", 1.6)
        .style("fill", s.color);
});

// red compilation line
const lineData = lineLogM.map((m, i) => [Math.pow(10, m), lineRate[i]]);
plot.append("path")
    .datum(lineData)
    .attr("d", d3.line().x(d => x(d[0])).y(d => y(d[1])))
    .attr("fill", "none")
    .attr("stroke", colors[0])
    .attr("stroke-width", 5);

// axes: inward ticks on all four sides
const x0 = margin.left, x1 = width - margin.right;
const y0 = height - margin.bottom, y1 = margin.top;

function tickAxis(axis, tx, ty, vals, size) {
    svg.append("g")
        .attr("transform", `translate(${tx},${ty})`)
        .call(axis.tickValues(vals).tickSize(-size).tickFormat(""))
        .call(g => g.select(".domain").remove())
        .call(g => g.selectAll("line").attr("stroke", "#000").attr("stroke-width", 1.2));
}
tickAxis(d3.axisBottom(x), 0, y0, xMajor, 5);
tickAxis(d3.axisBottom(x), 0, y0, xMinor, 3);
tickAxis(d3.axisTop(x), 0, y1, xMajor, 5);
tickAxis(d3.axisTop(x), 0, y1, xMinor, 3);
tickAxis(d3.axisLeft(y), x0, 0, yMajor, 5);
tickAxis(d3.axisLeft(y), x0, 0, yMinor, 3);
tickAxis(d3.axisRight(y), x1, 0, yMajor, 5);
tickAxis(d3.axisRight(y), x1, 0, yMinor, 3);

svg.append("rect")
    .attr("x", x0).attr("y", y1)
    .attr("width", x1 - x0).attr("height", y0 - y1)
    .attr("fill", "none")
    .attr("stroke", "#444")
    .attr("stroke-width", 1.3);

function expText(e) { return e < 0 ? "\u2212" + (-e) : String(e); }

// tick labels 10^n
const xLab = svg.append("g").attr("fill", "#222");
xMajor.forEach(v => {
    const t = xLab.append("text")
        .attr("x", x(v))
        .attr("y", y0 + 21)
        .attr("text-anchor", "middle")
        .style("font-size", "18px");
    t.append("tspan").text("10");
    t.append("tspan").attr("dy", -8).style("font-size", "12.5px").text(expText(Math.round(Math.log10(v))));
});
const yLab = svg.append("g").attr("fill", "#222");
yMajor.forEach(v => {
    const t = yLab.append("text")
        .attr("x", x0 - 6)
        .attr("y", y(v) + 5)
        .attr("text-anchor", "end")
        .style("font-size", "18px");
    t.append("tspan").text("10");
    t.append("tspan").attr("dy", -8).style("font-size", "12.5px").text(expText(Math.round(Math.log10(v))));
});

// axis titles
svg.append("text")
    .attr("x", (x0 + x1) / 2)
    .attr("y", 416)
    .attr("text-anchor", "middle")
    .attr("fill", "#222")
    .style("font-size", "17px")
    .text("Stellar Mass");

const yt = svg.append("text")
    .attr("transform", `translate(29,${(y0 + y1) / 2 + 11}) rotate(-90)`)
    .attr("text-anchor", "middle")
    .attr("fill", "#222")
    .style("font-size", "17px");
yt.append("tspan").text("specific Rate [");
yt.append("tspan").style("font-style", "italic").text("Gy");
yt.append("tspan").attr("dy", -7).style("font-size", "12px").text("\u22121");
yt.append("tspan").attr("dy", 7).text("]");

// legend
const legend = svg.append("g").attr("fill", "#222").style("font-size", "16px");
const legendY = [48, 77, 106, 134];
legend.append("line")
    .attr("x1", 273).attr("x2", 297)
    .attr("y1", legendY[0] - 6).attr("y2", legendY[0] - 6)
    .attr("stroke", colors[0]).attr("stroke-width", 5);
const l0 = legend.append("text").attr("x", 308).attr("y", legendY[0]);
l0.append("tspan").style("font-style", "italic").text("\u03b2");
l0.append("tspan").text(" = \u22120.1 " + legendLabels[0]);

const dotDx = [281, 285, 289], dotDy = [-4, -6, -3.5];
for (let i = 1; i < 4; i++) {
    dotDx.forEach((dx, j) => {
        legend.append("circle")
            .attr("cx", dx).attr("cy", legendY[i] + dotDy[j])
            .attr("r", 1.8).attr("fill", colors[i]);
    });
    legend.append("text").attr("x", 308).attr("y", legendY[i]).text(legendLabels[i]);
}
</script>
</body>
</html>
